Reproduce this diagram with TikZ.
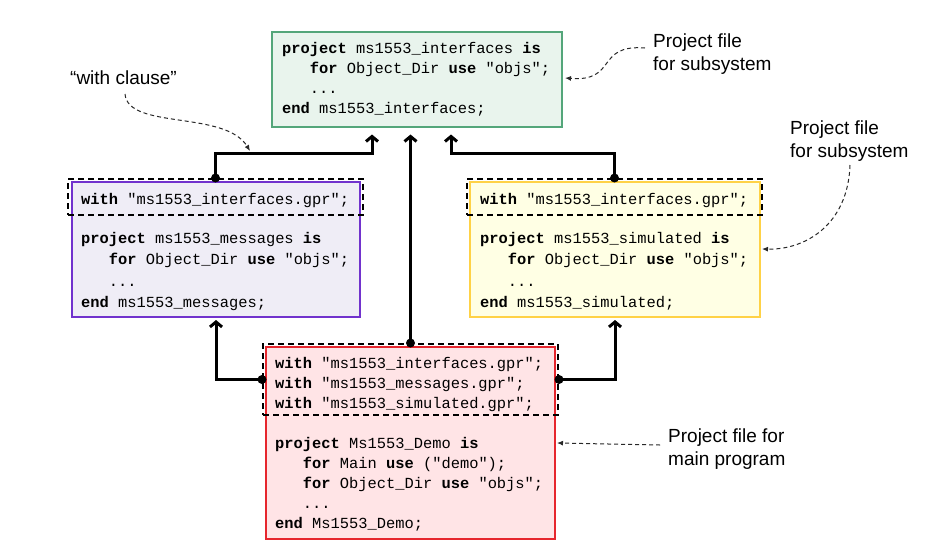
\documentclass[tikz,border=0pt]{standalone}
\usepackage{fontspec}
\setmainfont{Liberation Sans}
\newfontfamily\codefont{Liberation Mono}
\usetikzlibrary{arrows.meta,calc}
\definecolor{ifacefill}{RGB}{233,244,237}
\definecolor{ifacedraw}{RGB}{84,166,122}
\definecolor{msgfill}{RGB}{239,237,246}
\definecolor{msgdraw}{RGB}{113,50,205}
\definecolor{simfill}{RGB}{255,255,228}
\definecolor{simdraw}{RGB}{255,210,70}
\definecolor{demofill}{RGB}{255,228,230}
\definecolor{demodraw}{RGB}{230,38,45}
\definecolor{anncol}{RGB}{40,40,40}
\newcommand\kw[1]{\textbf{#1}}
\newcommand\ind{\hphantom{xxx}}
\begin{document}
\begin{tikzpicture}[x=1pt,y=-1pt,
  box/.style={line width=2pt, inner sep=0pt},
  withbox/.style={draw=black, dashed, dash pattern=on 6pt off 4pt, line width=2pt, inner sep=0pt, minimum width=295pt},
  code/.style={inner sep=0pt, anchor=base west, align=left, font=\codefont},
  lbl/.style={inner sep=0pt, anchor=base west, align=left, font=\fontsize{19}{23}\selectfont},
  conn/.style={line width=3pt, -{Straight Barb[length=5pt,width=12pt]}},
  dot/.style={circle, fill=black, inner sep=0pt, minimum size=9pt},
  ann/.style={anncol, line width=1pt, dash pattern=on 4pt off 3pt, -{Latex[length=6pt,width=5pt]}}]
\useasboundingbox (0,0) rectangle (947,557);
\fill[white] (0,0) rectangle (947,557);

% boxes
\node[box, draw=ifacedraw, fill=ifacefill, minimum width=290pt, minimum height=95pt] (iface) at (417,79) {};
\node[box, draw=msgdraw, fill=msgfill, minimum width=288pt, minimum height=135pt] (msg) at (216,249.5) {};
\node[box, draw=simdraw, fill=simfill, minimum width=290pt, minimum height=135pt] (sim) at (615,249.5) {};
\node[box, draw=demodraw, fill=demofill, minimum width=289pt, minimum height=192pt] (demo) at (410.5,443) {};

% code (anchor = baseline of the last line)
\node[code, font=\codefont\fontsize{15.4}{19.7}\selectfont] (ifacecode) at (282,113) {%
\kw{project} ms1553\_interfaces \kw{is}\\
\ind\kw{for} Object\_Dir \kw{use} "objs";\\
\ind...\\
\kw{end} ms1553\_interfaces;};

\node[code, font=\codefont\fontsize{15.4}{21.5}\selectfont] (msgcode) at (81,307.5) {%
\kw{with} "ms1553\_interfaces.gpr";\\[17.5pt]
\kw{project} ms1553\_messages \kw{is}\\
\ind\kw{for} Object\_Dir \kw{use} "objs";\\
\ind...\\
\kw{end} ms1553\_messages;};

\node[code, font=\codefont\fontsize{15.4}{21.5}\selectfont] (simcode) at (480,307.5) {%
\kw{with} "ms1553\_interfaces.gpr";\\[17.5pt]
\kw{project} ms1553\_simulated \kw{is}\\
\ind\kw{for} Object\_Dir \kw{use} "objs";\\
\ind...\\
\kw{end} ms1553\_simulated;};

\node[code, font=\codefont\fontsize{15.4}{20}\selectfont] (democode) at (275,528) {%
\kw{with} "ms1553\_interfaces.gpr";\\
\kw{with} "ms1553\_messages.gpr";\\
\kw{with} "ms1553\_simulated.gpr";\\[20pt]
\kw{project} Ms1553\_Demo \kw{is}\\
\ind\kw{for} Main \kw{use} ("demo");\\
\ind\kw{for} Object\_Dir \kw{use} "objs";\\
\ind...\\
\kw{end} Ms1553\_Demo;};

% dashed "with" regions
\node[withbox, minimum height=36pt] (msgwith) at (215.5,197) {};
\node[withbox, minimum height=36pt] (simwith) at (614.5,197) {};
\node[withbox, minimum height=71pt] (demowith) at (410.5,379.5) {};

% connectors
\draw[conn, shorten >=7pt] (msgwith.north) -- ++(0,-25) -| ([xshift=-45pt]iface.south);
\draw[conn, shorten >=7pt] (simwith.north) -- ++(0,-25) -| ([xshift=34pt]iface.south);
\draw[conn, shorten >=7pt] (demowith.north) -- (demowith.north |- iface.south);
\draw[conn, shorten >=2pt] (demowith.west) -| (msg.south);
\draw[conn, shorten >=2pt] (demowith.east) -| (sim.south);
\node[dot] (d1) at (msgwith.north) {};
\node[dot] (d2) at (simwith.north) {};
\node[dot] (d3) at (demowith.north) {};
\node[dot] (d4) at (demowith.west) {};
\node[dot] (d5) at (demowith.east) {};

% annotations
\node[lbl] (withlbl) at (70,84) {“with clause”};
\node[lbl] (ifacelbl) at (653,70) {Project file\\for subsystem};
\node[lbl] (simlbl) at (790,157) {Project file\\for subsystem};
\node[lbl] (demolbl) at (668,465) {Project file for\\main program};

\coordinate (a1s) at (125,94);
\coordinate (a1e) at (250,151);
\coordinate (a2s) at (645,48);
\coordinate (a2e) at (565,78);
\coordinate (a3s) at (850,165);
\coordinate (a3e) at (762,249);
\coordinate (a4s) at (660,445);
\coordinate (a4e) at (557,443);
\draw[ann] (a1s) .. controls (128,130) and (225,110) .. (a1e);
\draw[ann] (a2s) .. controls (595,44) and (618,82) .. (a2e);
\draw[ann] (a3s) .. controls (848,225) and (805,250) .. (a3e);
\draw[ann] (a4s) -- (a4e);
\end{tikzpicture}
\end{document}
